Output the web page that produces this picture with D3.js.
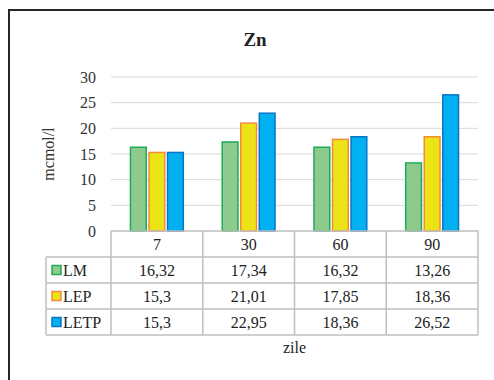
<!DOCTYPE html>
<html>
<head>
<meta charset="utf-8">
<script src="https://cdn.jsdelivr.net/npm/d3@7"></script>
<style>
  body { margin: 0; background: #fff; }
  svg text { font-family: "Liberation Serif", "Times New Roman", serif; }
</style>
</head>
<body>
<div id="chart"></div>
<script>
const days = ["7", "30", "60", "90"];
const seriesNames = ["LM", "LEP", "LETP"];
const LM = [16.32, 17.34, 16.32, 13.26];
const LEP = [15.3, 21.01, 17.85, 18.36];
const LETP = [15.3, 22.95, 18.36, 26.52];
const yTicks = [0, 5, 10, 15, 20, 25, 30];

const fills = ["#8ccb8c", "#ebe315", "#00b0f0"];
const strokes = ["#1faa5a", "#f58a3c", "#0b75c4"];

const FONT = "Liberation Serif";
const W = 494, H = 380;
const plot = {left: 111, right: 478, top: 77, bottom: 231};
const rowH = 26;

const svg = d3.select("#chart").append("svg")
  .attr("width", W).attr("height", H)
  .attr("font-family", FONT)
  .style("display", "block");

// adds a text node in the chart font
function label(parent, str, size) {
  return parent.append("text")
    .attr("font-family", FONT)
    .style("font-size", size + "px")
    .attr("fill", "#222")
    .text(str);
}

// outer frame (runs off the right and bottom edges)
svg.append("rect")
  .attr("x", 9).attr("y", 10)
  .attr("width", W + 10).attr("height", H + 10)
  .attr("fill", "none").attr("stroke", "#262626").attr("stroke-width", 2);

label(svg, "Zn", 19)
  .attr("x", 255).attr("y", 46)
  .attr("text-anchor", "middle")
  .attr("font-weight", "bold");

const x = d3.scaleBand().domain(days).range([plot.left, plot.right]);
const x1 = d3.scaleBand().domain(seriesNames)
  .range([0, x.bandwidth()]).paddingInner(0.15).paddingOuter(1.05);
const y = d3.scaleLinear().domain([0, 30]).range([plot.bottom, plot.top]);

// gridlines
svg.append("g").selectAll("line")
  .data(yTicks.filter(d => d > 0))
  .join("line")
  .attr("x1", plot.left).attr("x2", plot.right)
  .attr("y1", d => y(d)).attr("y2", d => y(d))
  .attr("stroke", "#d9d9d9").attr("stroke-width", 1);

// y axis labels
const yAxis = svg.append("g")
  .attr("transform", `translate(${plot.left},0)`)
  .call(d3.axisLeft(y).tickValues(yTicks).tickSize(0).tickPadding(15));
yAxis.attr("font-family", FONT).attr("font-size", 16);
yAxis.select(".domain").remove();
yAxis.selectAll("text")
  .attr("font-family", FONT)
  .style("font-size", "16px").attr("fill", "#333");

label(svg, "mcmol/l", 16)
  .attr("transform", `translate(48,${(plot.top + plot.bottom) / 2}) rotate(-90)`)
  .attr("text-anchor", "middle").attr("dy", "0.35em")
  .attr("fill", "#333");

const series = [LM, LEP, LETP];

// bars
series.forEach((vals, si) => {
  svg.append("g").selectAll("rect")
    .data(vals)
    .join("rect")
    .attr("x", (d, i) => x(days[i]) + x1(seriesNames[si]))
    .attr("y", d => y(d))
    .attr("width", x1.bandwidth())
    .attr("height", d => y(0) - y(d))
    .attr("fill", fills[si])
    .attr("stroke", strokes[si]).attr("stroke-width", 1.5);
});

// data table
const tbl = svg.append("g");
const tLeft = 46;
const gridColor = "#bfbfbf";
const nRows = series.length + 1;
const tBottom = plot.bottom + rowH * nRows;

for (let r = 0; r <= nRows; r++) {
  tbl.append("line")
    .attr("x1", r === 0 ? plot.left : tLeft).attr("x2", plot.right)
    .attr("y1", plot.bottom + r * rowH).attr("y2", plot.bottom + r * rowH)
    .attr("stroke", gridColor).attr("stroke-width", 1.5);
}
tbl.append("line")
  .attr("x1", tLeft).attr("x2", tLeft)
  .attr("y1", plot.bottom + rowH).attr("y2", tBottom)
  .attr("stroke", gridColor).attr("stroke-width", 1.5);
days.forEach(d => {
  tbl.append("line")
    .attr("x1", x(d)).attr("x2", x(d))
    .attr("y1", plot.bottom).attr("y2", tBottom)
    .attr("stroke", gridColor).attr("stroke-width", 1.5);
});
tbl.append("line")
  .attr("x1", plot.right).attr("x2", plot.right)
  .attr("y1", plot.bottom).attr("y2", tBottom)
  .attr("stroke", gridColor).attr("stroke-width", 1.5);

// header row
days.forEach(d => {
  label(tbl, d, 16)
    .attr("x", x(d) + x.bandwidth() / 2)
    .attr("y", plot.bottom + rowH / 2)
    .attr("dy", "0.35em").attr("text-anchor", "middle");
});

const fmt = v => String(v).replace(".", ",");

series.forEach((vals, si) => {
  const cy = plot.bottom + rowH * (si + 1) + rowH / 2;
  tbl.append("rect")
    .attr("x", 52).attr("y", cy - 4.5)
    .attr("width", 9).attr("height", 9)
    .attr("fill", fills[si]).attr("stroke", strokes[si]).attr("stroke-width", 1.5);
  label(tbl, seriesNames[si], 16)
    .attr("x", 63).attr("y", cy).attr("dy", "0.35em");
  vals.forEach((v, i) => {
    label(tbl, fmt(v), 16)
      .attr("x", x(days[i]) + x.bandwidth() / 2)
      .attr("y", cy).attr("dy", "0.35em")
      .attr("text-anchor", "middle");
  });
});

label(svg, "zile", 16)
  .attr("x", (plot.left + plot.right) / 2).attr("y", 353)
  .attr("text-anchor", "middle");
</script>
</body>
</html>
